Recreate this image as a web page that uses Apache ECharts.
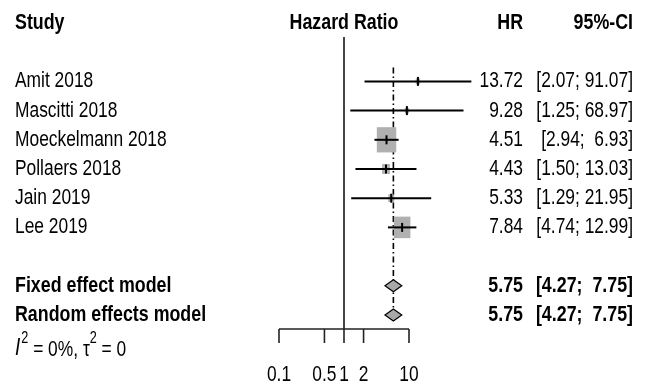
<!DOCTYPE html>
<html><head><meta charset="utf-8">
<script src="https://cdn.jsdelivr.net/npm/echarts@6/dist/echarts.min.js"></script>
<style>html,body{margin:0;padding:0;background:#fff}#c{width:650px;height:385px}</style>
</head><body><div id="c"></div>
<script>
// ---- data ----
const studies = ['Amit 2018', 'Mascitti 2018', 'Moeckelmann 2018', 'Pollaers 2018', 'Jain 2019', 'Lee 2019'];
const hr = [13.72, 9.28, 4.51, 4.43, 5.33, 7.84];
const ciLow = [2.07, 1.25, 2.94, 1.50, 1.29, 4.74];
const ciHigh = [91.07, 68.97, 6.93, 13.03, 21.95, 12.99];
const weights = [2.5, 2.2, 48.2, 7.6, 4.4, 35.0];
const hrLabels = ['13.72', '9.28', '4.51', '4.43', '5.33', '7.84'];
const ciLabels = ['[2.07; 91.07]', '[1.25; 68.97]', '[2.94;  6.93]', '[1.50; 13.03]', '[1.29; 21.95]', '[4.74; 12.99]'];
const models = ['Fixed effect model', 'Random effects model'];
const modelHr = [5.75, 5.75];
const modelLow = [4.27, 4.27];
const modelHigh = [7.75, 7.75];
const modelHrLabels = ['5.75', '5.75'];
const modelCiLabels = ['[4.27;  7.75]', '[4.27;  7.75]'];
const tickValues = [0.1, 0.5, 1, 2, 10];
const tickLabels = ['0.1', '0.5', '1', '2', '10'];
const headers = ['Study', 'Hazard Ratio', 'HR', '95%-CI'];
const hetI2 = '0%';
const hetTau2 = '0';

// ---- layout ----
const FONT = '"Liberation Sans", Arial, Helvetica, sans-serif';
const FS = 22, SX = 0.79, SXB = 0.81;
const COL_NAME = 15, COL_HR = 523, COL_CI = 633;
const mctx = document.createElement('canvas').getContext('2d');
function tw(font, s) { mctx.font = font; return mctx.measureText(s).width; }

function T(x, y, text, align, bold, size, extra) {
  size = size || FS;
  const st = {text: text, x: 0, y: 0, fill: '#000',
    font: (bold ? 'bold ' : '') + size + 'px ' + FONT,
    textAlign: align, textVerticalAlign: 'middle', align: align, verticalAlign: 'middle'};
  if (extra) Object.assign(st, extra);
  return {type: 'text', x: x, y: y, scaleX: bold ? SXB : SX, scaleY: 1, silent: true, style: st};
}

const chart = echarts.init(document.getElementById('c'), null, {renderer: 'canvas'});

const studyData = studies.map((s, i) => [hr[i], ciLow[i], ciHigh[i], i + 2, weights[i], i]);
const modelData = models.map((m, i) => [modelHr[i], modelLow[i], modelHigh[i], i + 9, i]);

const option = {
  animation: false,
  backgroundColor: '#fff',
  grid: {left: 279, width: 195, top: 23, height: 350.4},
  xAxis: {type: 'log', logBase: 10, min: 0.1, max: 100, show: false},
  yAxis: {type: 'value', min: 0, max: 12, inverse: true, show: false},
  series: [
    { // reference lines + axis
      type: 'custom', clip: false, silent: true,
      data: [[1, 0]],
      renderItem: function (params, api) {
        const x1 = api.coord([1, 0])[0];
        const yTop = api.coord([1, 0])[1] + 14;
        const yAxisLine = api.coord([1, 10])[1] + 14;
        const xPooled = api.coord([modelHr[0], 0])[0];
        const yDashTop = api.coord([1, 2])[1] - 14;
        const yDashBot = api.coord([1, 10])[1] - 6;
        const xMin = api.coord([tickValues[0], 0])[0];
        const xMax = api.coord([tickValues[tickValues.length - 1], 0])[0];
        const ch = [
          {type: 'line', shape: {x1: x1, y1: yTop, x2: x1, y2: yAxisLine}, style: {stroke: '#444', lineWidth: 2}},
          {type: 'line', shape: {x1: xPooled, y1: yDashTop, x2: xPooled, y2: yDashBot}, style: {stroke: '#000', lineWidth: 1.6, lineDash: [6, 3, 1.5, 3]}},
          {type: 'line', shape: {x1: xMin, y1: yAxisLine, x2: xMax, y2: yAxisLine}, style: {stroke: '#222', lineWidth: 1.6}}
        ];
        tickValues.forEach(function (v, k) {
          const x = api.coord([v, 0])[0];
          ch.push({type: 'line', shape: {x1: x, y1: yAxisLine, x2: x, y2: yAxisLine + 14}, style: {stroke: '#222', lineWidth: 1.6}});
          ch.push(T(x, yAxisLine + 46, tickLabels[k], 'center', false));
        });
        return {type: 'group', children: ch};
      }
    },
    { // study CIs
      type: 'custom', clip: false, silent: true,
      data: studyData,
      renderItem: function (params, api) {
        const y = api.coord([1, api.value(3)])[1];
        const xm = api.coord([api.value(0), 0])[0];
        const xl = api.coord([api.value(1), 0])[0];
        const xh = api.coord([api.value(2), 0])[0];
        const w = 2.8 * Math.sqrt(api.value(4)), h = w * 1.3;
        return {type: 'group', children: [
          {type: 'rect', shape: {x: xm - w / 2, y: y - h / 2, width: w, height: h}, style: {fill: '#b0b0b0'}},
          {type: 'line', shape: {x1: xl, y1: y, x2: xh, y2: y}, style: {stroke: '#000', lineWidth: 2}},
          {type: 'line', shape: {x1: xm, y1: y - 4.5, x2: xm, y2: y + 4.5}, style: {stroke: '#000', lineWidth: 2}}
        ]};
      }
    },
    { // pooled diamonds
      type: 'custom', clip: false, silent: true,
      data: modelData,
      renderItem: function (params, api) {
        const y = api.coord([1, api.value(3)])[1];
        const xm = api.coord([api.value(0), 0])[0];
        const xl = api.coord([api.value(1), 0])[0];
        const xh = api.coord([api.value(2), 0])[0];
        return {type: 'polygon', shape: {points: [[xl, y], [xm, y - 6], [xh, y], [xm, y + 6]]},
          style: {fill: '#a8a8a8', stroke: '#000', lineWidth: 1.2}};
      }
    },
    { // text
      type: 'custom', clip: false, silent: true,
      data: [[1, 0]],
      renderItem: function (params, api) {
        const rowY = function (r) { return api.coord([1, r])[1]; };
        const xNull = api.coord([1, 0])[0];
        const ch = [
          T(COL_NAME, rowY(0), headers[0], 'left', true),
          T(xNull, rowY(0), headers[1], 'center', true),
          T(COL_HR, rowY(0), headers[2], 'right', true),
          T(COL_CI, rowY(0), headers[3], 'right', true)
        ];
        studies.forEach(function (s, i) {
          const y = rowY(i + 2);
          ch.push(T(COL_NAME, y, s, 'left', false));
          ch.push(T(COL_HR, y, hrLabels[i], 'right', false));
          ch.push(T(COL_CI, y, ciLabels[i], 'right', false));
        });
        models.forEach(function (m, i) {
          const y = rowY(i + 9);
          ch.push(T(COL_NAME, y, m, 'left', true));
          ch.push(T(COL_HR, y, modelHrLabels[i], 'right', true));
          ch.push(T(COL_CI, y, modelCiLabels[i], 'right', true));
        });
        // heterogeneity line: I^2 = .., tau^2 = ..
        const yMain = rowY(11) + 5.3, ySup = yMain - 11;
        const pieces = [
          ['I', 'italic 24px ' + FONT, yMain - 1],
          ['2', '16px ' + FONT, ySup],
          [' = ' + hetI2 + ', τ', '22px ' + FONT, yMain],
          ['2', '16px ' + FONT, ySup],
          [' = ' + hetTau2, '22px ' + FONT, yMain]
        ];
        let cx = COL_NAME;
        pieces.forEach(function (p) {
          ch.push({type: 'text', x: cx, y: p[2], scaleX: SX, scaleY: 1, silent: true,
            style: {text: p[0], x: 0, y: 0, fill: '#000', font: p[1], textAlign: 'left', align: 'left',
              textVerticalAlign: 'middle', verticalAlign: 'middle'}});
          cx += tw(p[1], p[0]) * SX + (p[0] === 'I' ? 1 : 0);
        });
        return {type: 'group', children: ch};
      }
    }
  ]
};
chart.setOption(option);
</script>
</body></html>
